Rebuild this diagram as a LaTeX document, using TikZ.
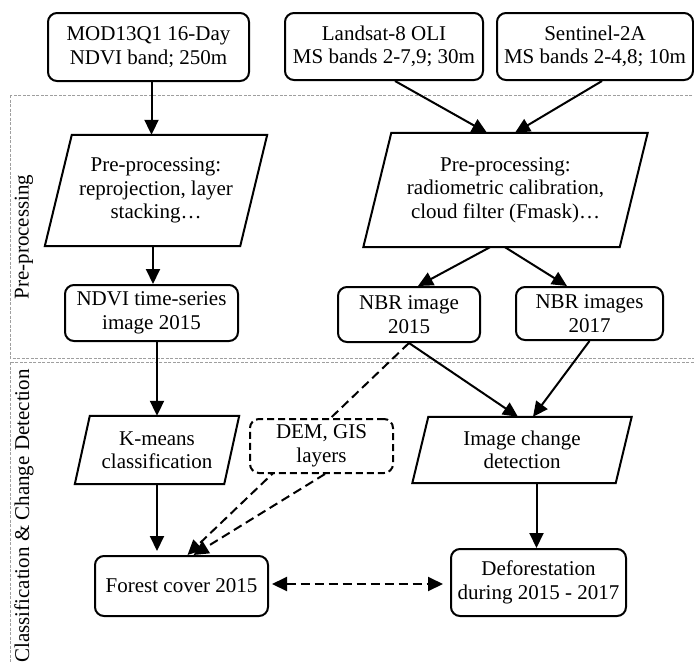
\documentclass[tikz,border=0pt]{standalone}
\usepackage{fontspec}
\setmainfont{Liberation Serif}
\usetikzlibrary{arrows.meta}
\begin{document}
\begin{tikzpicture}[x=1pt,y=-1pt,
  every node/.style={font=\fontsize{21}{23.5}\selectfont, align=center, inner sep=0pt},
  rbox/.style={draw, line width=2pt, rounded corners=9pt, fill=white},
  dbox/.style={rbox, dash pattern=on 7pt off 4pt},
  pbox/.style={draw=none},
  pshape/.style={line width=2pt, line join=miter},
  arr/.style={line width=2pt, -{Triangle[length=15pt,width=14pt]}},
  darr/.style={arr, dash pattern=on 9pt off 5pt},
  frame/.style={draw=gray!75, line width=0.8pt, dash pattern=on 3pt off 1.5pt}
]
\useasboundingbox (0,0) rectangle (694,662);
\begin{scope}
\clip (0,0) rectangle (694,662);
% frames
\draw[frame] (10,95) rectangle (700,358);
\draw[frame] (10,362) rectangle (700,700);
\node[rotate=90] (lblpre) at (24,237) {Pre-processing};
\node[rotate=90] (lblcls) at (24,516) {Classification \& Change Detection};

% top inputs
\node[rbox, minimum width=201pt, minimum height=68pt] (mod) at (148.5,47) {MOD13Q1 16-Day\\NDVI band; 250m};
\node[rbox, minimum width=198pt, minimum height=67pt] (land) at (384,46.5) {Landsat-8 OLI\\MS bands 2-7,9; 30m};
\node[rbox, minimum width=196pt, minimum height=67pt] (sent) at (595,46.5) {Sentinel-2A\\MS bands 2-4,8; 10m};

% parallelograms
\node[pbox, minimum width=195pt, minimum height=111pt] (p1) at (156,190.5) {Pre-processing:\\reprojection, layer\\stacking…};
\draw[pshape] ([xshift=-13.5pt]p1.south west) -- ([xshift=-13.5pt]p1.south east) -- ([xshift=13.5pt]p1.north east) -- ([xshift=13.5pt]p1.north west) -- cycle;
\node[pbox, minimum width=256pt, minimum height=114pt] (p2) at (505.5,190) {Pre-processing:\\radiometric calibration,\\cloud filter (Fmask)…};
\draw[pshape] ([xshift=-14pt]p2.south west) -- ([xshift=-14pt]p2.south east) -- ([xshift=14pt]p2.north east) -- ([xshift=14pt]p2.north west) -- cycle;

% middle boxes
\node[rbox, minimum width=173pt, minimum height=56pt] (ndvi) at (151.5,313) {NDVI time-series\\image 2015};
\node[rbox, minimum width=142pt, minimum height=55pt] (nbr15) at (409,314.5) {NBR image\\2015};
\node[rbox, minimum width=147pt, minimum height=53pt] (nbr17) at (589.5,313.5) {NBR images\\2017};

\node[pbox, minimum width=149pt, minimum height=68pt] (km) at (157,450) {K-means\\classification};
\draw[pshape] ([xshift=-7.5pt]km.south west) -- ([xshift=-7.5pt]km.south east) -- ([xshift=7.5pt]km.north east) -- ([xshift=7.5pt]km.north west) -- cycle;
\node[pbox, minimum width=203pt, minimum height=66pt] (chg) at (522,450) {Image change\\detection};
\draw[pshape] ([xshift=-8pt]chg.south west) -- ([xshift=-8pt]chg.south east) -- ([xshift=8pt]chg.north east) -- ([xshift=8pt]chg.north west) -- cycle;

\node[rbox, minimum width=173pt, minimum height=60pt] (forest) at (181.5,586) {Forest cover 2015};
\node[rbox, minimum width=175pt, minimum height=67pt] (defo) at (538.5,582.5) {Deforestation\\during 2015 - 2017};

% dashed line passing behind DEM box
\draw[darr] (nbr15.south) -- ([xshift=6pt]forest.north);
\node[dbox, minimum width=143pt, minimum height=54pt] (dem) at (321.5,446) {DEM, GIS\\layers};
\draw[darr] ([xshift=3.5pt]dem.south) -- ([xshift=12pt]forest.north);

% solid arrows
\draw[arr] ([xshift=3pt]mod.south) -- ([xshift=3pt]mod.south |- p1.north);
\draw[arr] ([xshift=11pt]land.south) -- ([xshift=-18.5pt]p2.north);
\draw[arr] ([xshift=7pt]sent.south) -- ([xshift=9.5pt]p2.north);
\draw[arr] ([xshift=1.5pt]p1.south -| ndvi.north) -- ([xshift=1.5pt]ndvi.north);
\draw[arr] ([xshift=-15.5pt]p2.south) -- ([xshift=9pt]nbr15.north);
\draw[arr] ([xshift=-0.5pt]p2.south) -- ([xshift=-22.5pt]nbr17.north);
\draw[arr] (ndvi.south -| km.north) -- (km.north);
\draw[arr] (nbr15.south) -- ([xshift=-4pt]chg.north);
\draw[arr] (nbr17.south) -- ([xshift=11pt]chg.north);
\draw[arr, shorten >=4pt] (km.south) -- (km.south |- forest.north);
\draw[arr] ([xshift=-2pt]chg.south -| defo.north) -- ([xshift=-2pt]defo.north);

% double dashed arrow
\draw[darr, {Triangle[length=15pt,width=14pt]}-{Triangle[length=15pt,width=14pt]}, shorten <=3pt, shorten >=7pt] (forest.east |- 0,584) -- (defo.west |- 0,584);
\end{scope}
\end{tikzpicture}
\end{document}
